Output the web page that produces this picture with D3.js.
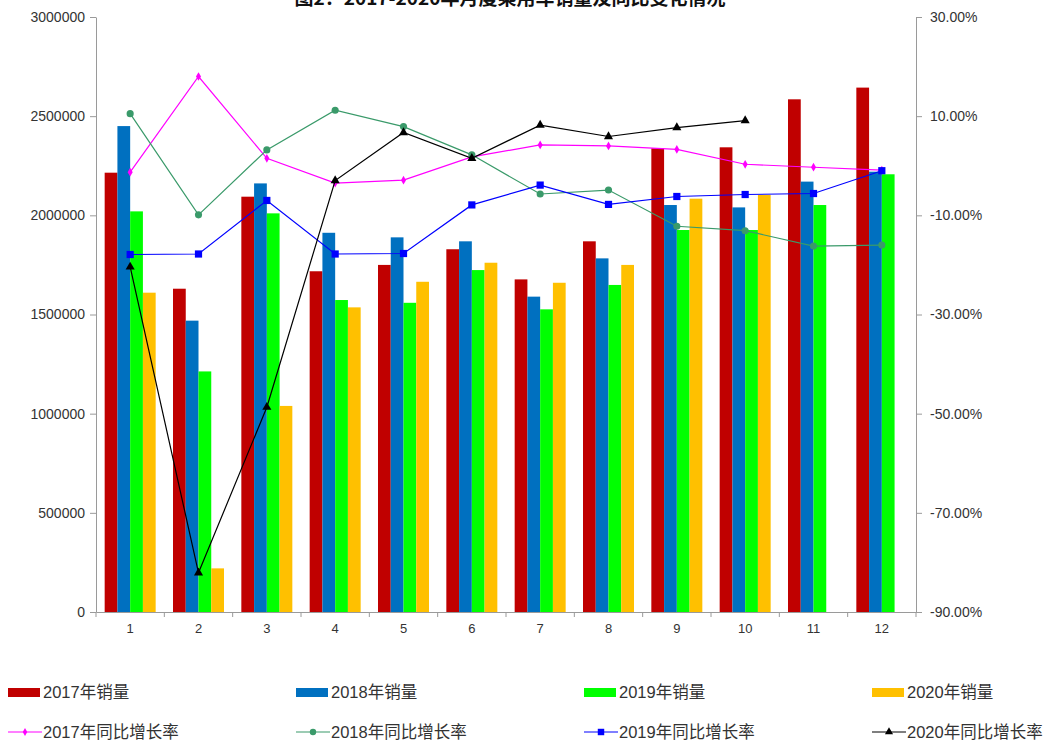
<!DOCTYPE html>
<html>
  <head>
    <meta charset="utf-8">
    <title>图2：2017-2020年月度乘用车销量及同比变化情况</title>
    <script src="https://d3js.org/d3.v7.min.js" charset="utf-8"></script>
    <style>
      body { margin: 0; background: #fff; }
      text { font-family: "Liberation Sans", Arial, "Noto Sans CJK SC", sans-serif; }
    </style>
  </head>
  <body>
    <script>
      // months on the x axis
      var months = ["1","2","3","4","5","6","7","8","9","10","11","12"];

      // monthly sales (vehicles)
      var sales2017 = [2215000,1630000,2094000,1718000,1750000,1829000,1677000,1869000,2338000,2343000,2585000,2644000];
      var sales2018 = [2450000,1469000,2161000,1912000,1889000,1869000,1590000,1783000,2052000,2040000,2170000,2220000];
      var sales2019 = [2020000,1213000,2010000,1573000,1559000,1724000,1526000,1649000,1926000,1926000,2052000,2207000];
      var sales2020 = [1610000,220000,1039000,1536000,1665000,1761000,1660000,1750000,2084000,2103000];

      // year on year growth (%)
      var growth2017 = [-1.3,18.0,1.5,-3.5,-2.9,1.8,4.2,4.0,3.3,0.3,-0.3,-0.9];
      var growth2018 = [10.5,-9.9,3.2,11.2,7.9,2.2,-5.7,-4.9,-12.2,-13.1,-16.2,-16.0];
      var growth2019 = [-17.9,-17.8,-7.0,-17.8,-17.7,-7.9,-3.9,-7.8,-6.2,-5.8,-5.6,-1.0];
      var growth2020 = [-20.4,-82.1,-48.7,-3.0,6.7,1.5,8.2,5.9,7.7,9.1];

      var leftTicks = [0,500000,1000000,1500000,2000000,2500000,3000000];
      var rightTicks = [30,10,-10,-30,-50,-70,-90];

      var barSeries = [
        {name: "2017年销量", values: sales2017, color: "#C00000"},
        {name: "2018年销量", values: sales2018, color: "#0070C0"},
        {name: "2019年销量", values: sales2019, color: "#00FF00"},
        {name: "2020年销量", values: sales2020, color: "#FFC000"}
      ];
      var lineSeries = [
        {name: "2017年同比增长率", values: growth2017, color: "#FF00FF", shape: d3.symbolDiamond, size: 22},
        {name: "2018年同比增长率", values: growth2018, color: "#3A9A6A", shape: d3.symbolCircle, size: 40},
        {name: "2019年同比增长率", values: growth2019, color: "#0000FF", shape: d3.symbolSquare, size: 52},
        {name: "2020年同比增长率", values: growth2020, color: "#000000", shape: d3.symbolTriangle, size: 36}
      ];

      var width = 1048;
      var height = 743;
      var margin = {left: 96, right: 132, top: 17, bottom: 131};

      var svg = d3.select("body")
        .append("svg")
        .attr("width", width)
        .attr("height", height);

      var x = d3.scaleBand()
        .domain(months)
        .range([margin.left, width - margin.right]);

      var xInner = d3.scaleBand()
        .domain(d3.range(barSeries.length))
        .range([0, x.bandwidth()])
        .paddingOuter(0.68);

      var yLeft = d3.scaleLinear()
        .domain([0, 3000000])
        .range([height - margin.bottom, margin.top]);

      var yRight = d3.scaleLinear()
        .domain([-90, 30])
        .range([height - margin.bottom, margin.top]);

      // title (cut at the top like the original)
      svg.append("text")
        .attr("x", 510)
        .attr("y", 5)
        .attr("text-anchor", "middle")
        .style("font-family", "'Noto Sans CJK SC', sans-serif")
        .style("font-weight", "bold")
        .style("font-size", "19px")
        .attr("fill", "#111")
        .text("图2：2017-2020年月度乘用车销量及同比变化情况");

      // bars
      var groups = svg.append("g").selectAll("g")
        .data(barSeries)
        .enter()
        .append("g")
        .attr("fill", function(d){ return d.color; });

      groups.selectAll("rect")
        .data(function(d, i){
          return d.values.map(function(v, j){ return {month: months[j], value: v, s: i}; });
        })
        .enter()
        .append("rect")
        .attr("x", function(d){ return x(d.month) + xInner(d.s); })
        .attr("width", xInner.bandwidth())
        .attr("y", function(d){ return yLeft(d.value); })
        .attr("height", function(d){ return yLeft(0) - yLeft(d.value); });

      // axes
      var axisColor = "#9a9a9a";

      var leftAxis = svg.append("g")
        .attr("transform", "translate(" + margin.left + ",0)")
        .call(d3.axisLeft(yLeft).tickValues(leftTicks).tickFormat(d3.format("d")).tickSize(6).tickSizeOuter(0).tickPadding(5));

      var rightAxis = svg.append("g")
        .attr("transform", "translate(" + (width - margin.right) + ",0)")
        .call(d3.axisRight(yRight).tickValues(rightTicks).tickFormat(function(d){ return d.toFixed(2) + "%"; }).tickSize(6).tickSizeOuter(0).tickPadding(8));

      var bottomAxis = svg.append("g")
        .attr("transform", "translate(0," + (height - margin.bottom) + ")")
        .call(d3.axisBottom(x).tickSize(0).tickSizeOuter(0).tickPadding(12));

      // small ticks between months
      bottomAxis.selectAll("line.sep")
        .data(d3.range(months.length + 1))
        .enter()
        .append("line")
        .attr("class", "sep")
        .attr("x1", function(i){ return margin.left + i * x.step(); })
        .attr("x2", function(i){ return margin.left + i * x.step(); })
        .attr("y1", 0)
        .attr("y2", 5);

      [leftAxis, rightAxis, bottomAxis].forEach(function(a){
        a.selectAll("path, line").attr("stroke", axisColor);
        a.selectAll("text").attr("fill", "#333").style("font-size", "14px");
      });
      bottomAxis.selectAll("text").style("font-size", "13px");

      // growth lines
      var line = d3.line()
        .x(function(d){ return x(d.month) + x.bandwidth() / 2; })
        .y(function(d){ return yRight(d.value); });

      lineSeries.forEach(function(s){
        var pts = s.values.map(function(v, j){ return {month: months[j], value: v}; });
        var g = svg.append("g");
        g.append("path")
          .datum(pts)
          .attr("fill", "none")
          .attr("stroke", s.color)
          .attr("stroke-width", 1.2)
          .attr("d", line);
        g.selectAll("path.pt")
          .data(pts)
          .enter()
          .append("path")
          .attr("class", "pt")
          .attr("fill", s.color)
          .attr("transform", function(d){
            return "translate(" + (x(d.month) + x.bandwidth() / 2) + "," + yRight(d.value) + ")";
          })
          .attr("d", d3.symbol().type(s.shape).size(s.size));
      });

      // legend
      var legendX = [8, 296, 584, 872];
      var legend = svg.append("g").style("font-size", "16.5px");

      barSeries.forEach(function(s, i){
        legend.append("rect")
          .attr("x", legendX[i])
          .attr("y", 688)
          .attr("width", 32)
          .attr("height", 9)
          .attr("fill", s.color);
        legend.append("text")
          .attr("x", legendX[i] + 35)
          .attr("y", 698)
          .attr("fill", "#333")
          .text(s.name);
      });

      lineSeries.forEach(function(s, i){
        legend.append("line")
          .attr("x1", legendX[i])
          .attr("x2", legendX[i] + 34)
          .attr("y1", 732)
          .attr("y2", 732)
          .attr("stroke", s.color)
          .attr("stroke-width", 1.2);
        legend.append("path")
          .attr("transform", "translate(" + (legendX[i] + 17) + ",732)")
          .attr("fill", s.color)
          .attr("d", d3.symbol().type(s.shape).size(s.size * 0.8));
        legend.append("text")
          .attr("x", legendX[i] + 35)
          .attr("y", 738)
          .attr("fill", "#333")
          .text(s.name);
      });
    </script>
  </body>
</html>
